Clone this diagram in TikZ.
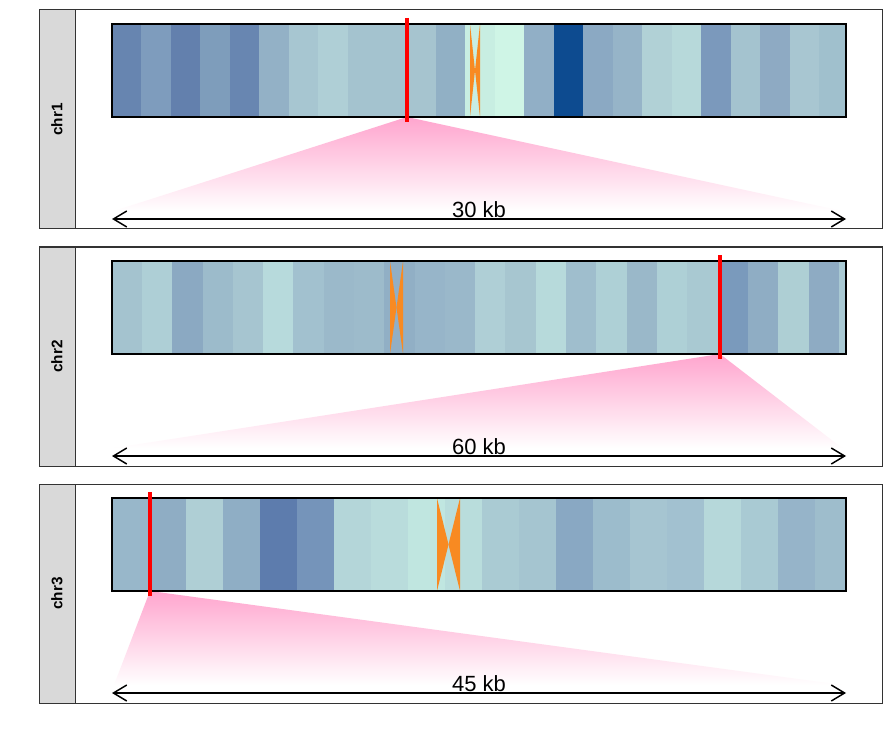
\documentclass[tikz,border=0pt]{standalone}
\usepackage{fontspec}
\setmainfont{Liberation Sans}
\usetikzlibrary{arrows.meta}
\definecolor{panelborder}{HTML}{333333}
\definecolor{stripfill}{HTML}{D9D9D9}
\definecolor{centro}{HTML}{F88A22}
\definecolor{marker}{HTML}{FF0000}
\definecolor{zoompink}{RGB}{255,165,206}
\tikzset{
  panelbox/.style={draw=panelborder, line width=0.75pt, fill=white},
  stripbox/.style={draw=panelborder, line width=0.75pt, fill=stripfill},
  striplabel/.style={font=\bfseries\fontsize{11.5}{13}\selectfont, rotate=90, inner sep=0pt},
  chrframe/.style={draw=black, line width=1.5pt},
  markerline/.style={draw=marker, line width=2.6pt},
  scalearrow/.style={draw=black, line width=1.1pt, {Straight Barb[length=10pt,width=12pt]}-{Straight Barb[length=10pt,width=12pt]}},
  kblabel/.style={font=\fontsize{16.5}{18}\selectfont, anchor=base, inner sep=0pt},
  zoomfan/.style={top color=zoompink, bottom color=white, draw=none},
  centrofill/.style={fill=centro, draw=none},
}
\newcommand\chrpanel[8]{%
  \begin{scope}[shift={(0,#2)}]
    \draw[stripbox] (39,10) rectangle (75,229);
    \draw[panelbox] (75,10) rectangle (882,229);
    \node[striplabel] (#1lab) at (57,119.5) {#3};
    \coordinate (#1apex) at (#4,117);
    \coordinate (#1fanL) at (114,211);
    \coordinate (#1fanR) at (842,211);
    \shade[zoomfan] (#1apex) -- (#1fanR) -- (#1fanL) -- cycle;
    \foreach \a/\b/\c in {#8} {\definecolor{bandcol}{HTML}{\c}\fill[bandcol] (\a,24) rectangle ({\b+0.5},117);}
    \fill[centrofill] (#5,24) -- (#5,117) -- ({(#5+#6)/2},70.5) -- cycle;
    \fill[centrofill] (#6,24) -- (#6,117) -- ({(#5+#6)/2},70.5) -- cycle;
    \draw[chrframe] (112,24) rectangle (846,117);
    \coordinate (#1mkT) at (#4,18);
    \coordinate (#1mkB) at (#4,122);
    \draw[markerline] (#1mkT) -- (#1mkB);
    \coordinate (#1arL) at (112,219);
    \coordinate (#1arR) at (846,219);
    \draw[scalearrow] (#1arL) -- (#1arR);
    \node[kblabel] (#1kb) at (479,217.5) {#7 kb};
  \end{scope}}
\begin{document}
\begin{tikzpicture}[x=0.75pt, y=-0.75pt]
\useasboundingbox[fill=white] (0,0) rectangle (895,734);
\chrpanel{a}{0}{chr1}{407}{470}{480}{30}{112/141/6785B0, 141/171/7E9CBD, 171/200/6380AD, 200/230/7E9DBB, 230/259/6886B1, 259/289/93B1C6, 289/318/A7C6D1, 318/348/AFCFD6, 348/377/A4C3CF, 377/407/A4C3CF, 407/436/A6C4CF, 436/465/91B0C5, 465/495/C8EEE2, 495/524/CFF5E6, 524/554/91AFC6, 554/583/0D4B90, 583/613/8BA9C3, 613/642/96B4C8, 642/672/B1D1D6, 672/701/B7D9DA, 701/731/7B99BC, 731/760/A4C3CF, 760/790/8EAAC3, 790/819/A8C6D1, 819/845.5/A0C0CD}
\chrpanel{b}{237}{chr2}{720}{390}{403}{60}{112/142/A4C3CF, 142/172/AECFD6, 172/203/8BA9C2, 203/233/9CBBCB, 233/263/A6C5D0, 263/293/B7DADC, 293/324/A2C1CF, 324/354/9BB9CA, 354/384/9DBBCB, 384/415/91AFC5, 415/445/97B5C9, 445/475/9AB8CA, 475/505/AFCFD6, 505/536/A7C6D0, 536/566/B7DADB, 566/596/9FBECD, 596/627/AED0D6, 627/657/9AB8C9, 657/687/AED0D6, 687/718/A9C9D2, 718/748/7A9ABC, 748/778/8FADC4, 778/809/AECFD4, 809/839/8EABC3, 839/845.5/A9C9D3}
\chrpanel{c}{474}{chr3}{150}{437}{460}{45}{112/149/98B7CA, 149/186/8FADC4, 186/223/AFCFD5, 223/260/8FAEC5, 260/297/5D7CAD, 297/334/7594BA, 334/371/B4D6D9, 371/408/B9DCDC, 408/445/C0E6E0, 445/482/B9DDDC, 482/519/AACBD3, 519/556/A5C5D0, 556/593/89A8C3, 593/630/9CBCCC, 630/667/A6C5D1, 667/704/A2C1D0, 704/741/B6D8DA, 741/778/A9CAD3, 778/815/96B4C9, 815/845.5/9EBDCC}
\end{tikzpicture}
\end{document}
